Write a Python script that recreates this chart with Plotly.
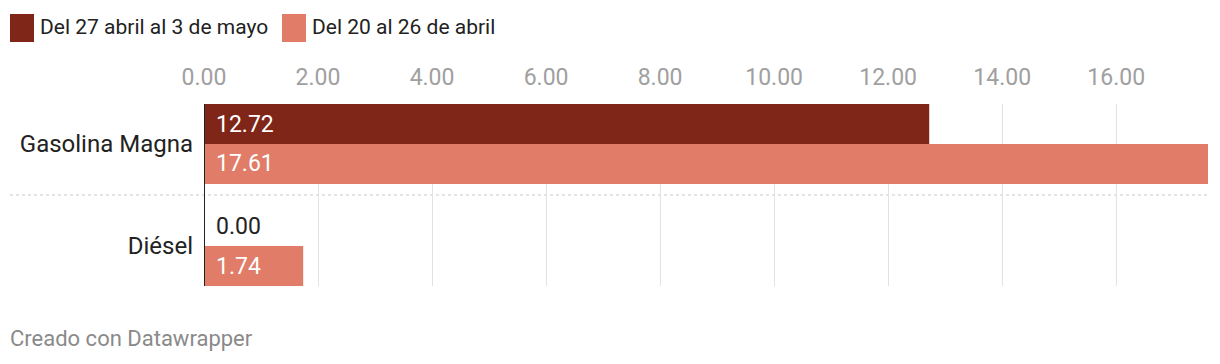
import plotly.graph_objects as go

categories = ["Gasolina Magna", "Diésel"]
series_names = ["Del 27 abril al 3 de mayo", "Del 20 al 26 de abril"]
values_week2 = [12.72, 0.00]
values_week1 = [17.61, 1.74]
tick_values = [0, 2, 4, 6, 8, 10, 12, 14, 16]
tick_labels = ["0.00", "2.00", "4.00", "6.00", "8.00", "10.00", "12.00", "14.00", "16.00"]
colors = ["#7f2619", "#e07c68"]

FONT = "Roboto"
W, H = 1220, 364
ML, MR, MT, MB = 204, 12, 104, 78
bargap = 0.216
ypos = list(range(len(categories)))

fig = go.Figure()
all_series = [values_week2, values_week1]
for name, vals, col in zip(series_names, all_series, colors):
    fig.add_trace(go.Bar(
        y=ypos, x=vals, name=name, orientation="h",
        marker=dict(color=col, line=dict(width=0)),
        hoverinfo="skip", showlegend=False,
    ))

# value labels
bw = (1 - bargap) / len(all_series)
for si, vals in enumerate(all_series):
    off = -(1 - bargap) / 2 + bw * (si + 0.5)
    for ci, v in enumerate(vals):
        fig.add_annotation(
            x=0, y=ci + off, xref="x", yref="y", text=f"{v:.2f}",
            showarrow=False, xanchor="left", yanchor="middle", xshift=10,
            font=dict(family=FONT, size=23, color="#ffffff" if v > 0.5 else "#222222"),
        )

# separators between categories
for i in range(len(categories) - 1):
    fig.add_shape(type="line", xref="paper", yref="y",
                  x0=(10 - ML) / (W - ML - MR), x1=1, y0=i + 0.5, y1=i + 0.5,
                  line=dict(color="#c8c8c8", width=1, dash="dot"), layer="below")

# baseline
fig.add_shape(type="line", xref="x", yref="paper", x0=0, x1=0, y0=0, y1=1,
              line=dict(color="#222222", width=2), layer="above")

# legend drawn manually
legend_x = [10, 282]
for lx, name, col in zip(legend_x, series_names, colors):
    fig.add_shape(type="rect", xref="paper", yref="paper",
                  x0=(lx - ML) / (W - ML - MR), x1=(lx + 24 - ML) / (W - ML - MR),
                  y0=1 + (MT - 42) / (H - MT - MB), y1=1 + (MT - 14) / (H - MT - MB),
                  fillcolor=col, line=dict(width=0))
    fig.add_annotation(xref="paper", yref="paper",
                       x=(lx + 28 - ML) / (W - ML - MR), y=1 + (MT - 27) / (H - MT - MB),
                       text=name, showarrow=False, xanchor="left", yanchor="middle",
                       font=dict(family=FONT, size=21, color="#222222"))

# footer
fig.add_annotation(xref="paper", yref="paper",
                   x=(8 - ML) / (W - ML - MR), y=-(338 - (H - MB)) / (H - MT - MB),
                   text="Creado con Datawrapper", showarrow=False,
                   xanchor="left", yanchor="middle",
                   font=dict(family=FONT, size=22, color="#8a8a8a"))

fig.update_layout(
    width=W, height=H,
    margin=dict(l=ML, r=MR, t=MT, b=MB, pad=0),
    paper_bgcolor="white", plot_bgcolor="white",
    barmode="group", bargap=bargap, bargroupgap=0,
    font=dict(family=FONT),
    xaxis=dict(range=[0, max(values_week1 + values_week2)], side="top",
               tickvals=tick_values, ticktext=tick_labels,
               showgrid=True, gridcolor="#e2e2e2", gridwidth=1,
               zeroline=False, showline=False, ticks="",
               ticklabelstandoff=13,
               tickfont=dict(family=FONT, size=23, color="#a0a0a0")),
    yaxis=dict(range=[len(categories) - 1 + 0.392, -0.392],
               tickvals=ypos, ticktext=categories,
               showgrid=False, zeroline=False, showline=False, ticks="",
               ticklabelstandoff=10,
               tickfont=dict(family=FONT, size=24, color="#222222")),
)

fig.write_html("out.html")
